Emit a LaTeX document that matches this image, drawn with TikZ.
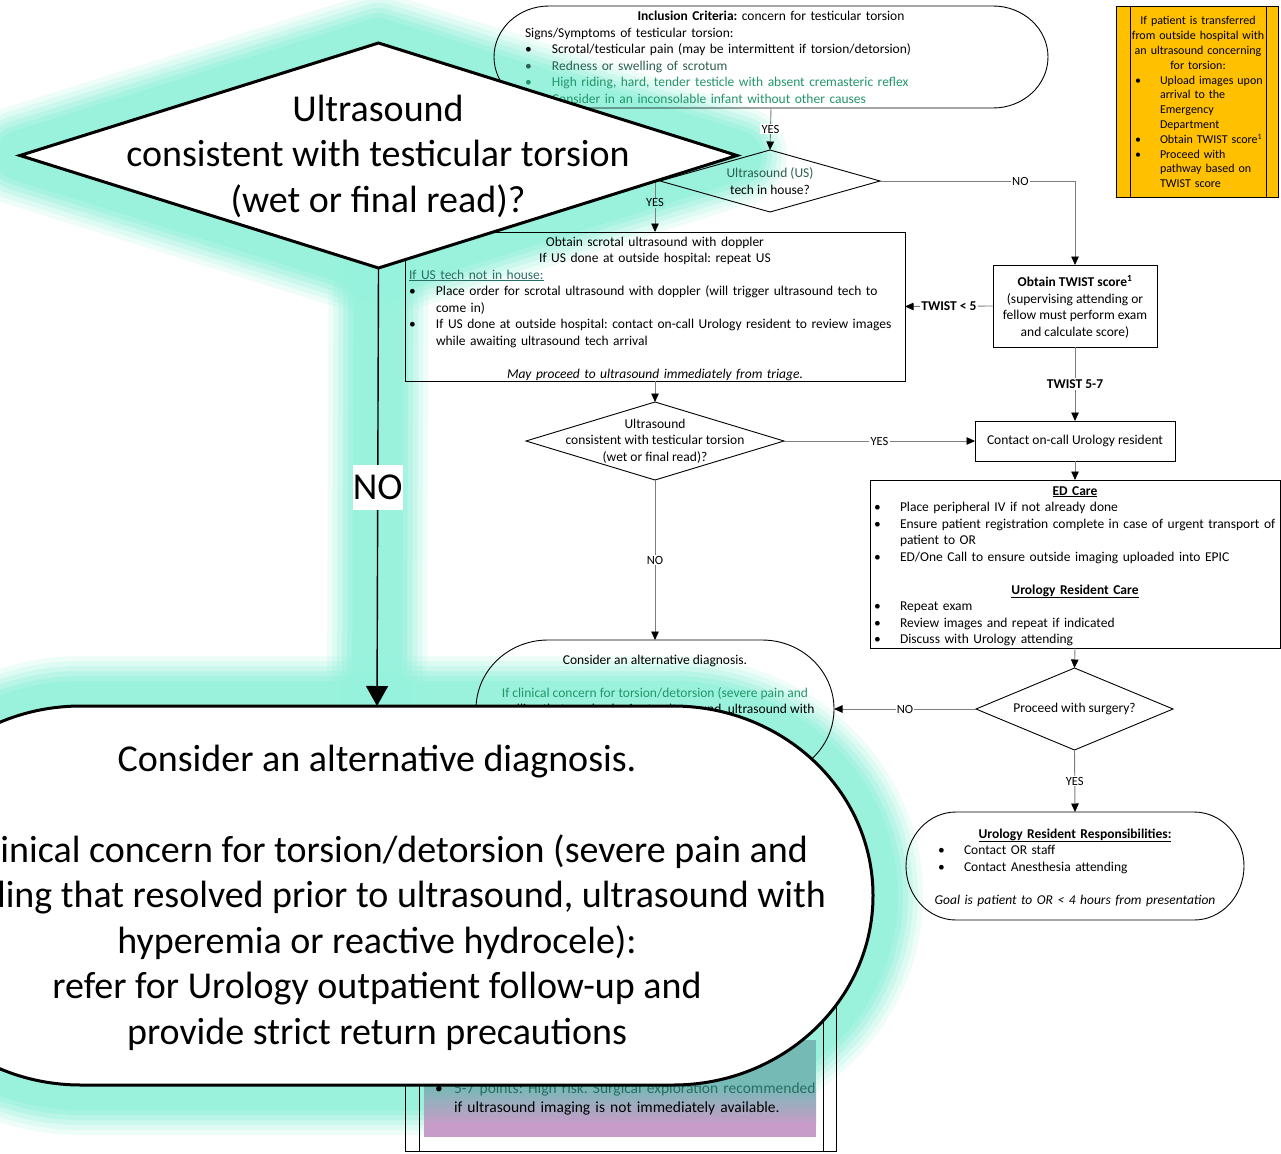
\documentclass[tikz,border=0pt]{standalone}
\usepackage{fontspec}
\setmainfont{Carlito}
\usetikzlibrary{arrows.meta,shapes.geometric}

\definecolor{glowc}{RGB}{150,242,220}
\definecolor{gold}{RGB}{255,192,0}
\definecolor{lilac}{RGB}{200,156,200}
\definecolor{tealfill}{RGB}{118,186,182}
\definecolor{greentext}{RGB}{34,150,105}
\definecolor{darkgreentext}{RGB}{45,95,80}
\definecolor{tealtext}{RGB}{40,110,100}
\definecolor{connc}{RGB}{125,125,125}

\newcommand\fsS{\fontsize{13.5pt}{16.5pt}\selectfont\frenchspacing}
\newcommand\fsL{\fontsize{12.5pt}{15pt}\selectfont}
\newcommand\fsO{\fontsize{12pt}{14.8pt}\selectfont\frenchspacing}
\newcommand\fsT{\fontsize{15.5pt}{19pt}\selectfont\frenchspacing}
\newcommand\fsB{\fontsize{38pt}{45.5pt}\selectfont\frenchspacing}
% bulleted paragraph with hanging indent
\newcommand\itm[2][27pt]{\par\noindent\hangindent=#1\hangafter=1\rightskip=0pt minus 60pt\makebox[#1][l]{\textbullet}#2}
% one centred line across the text width
\newcommand\ctr[1]{\par\noindent\makebox[\hsize][c]{#1}\par}
% terminator outline: left, top, right, bottom, x radius, y radius
\newcommand\stadiumpath[6]{({#1+#5},#2) -- ({#3-#5},#2) arc[start angle=90,end angle=-90,x radius=#5pt,y radius=#6pt] -- ({#1+#5},#4) arc[start angle=270,end angle=90,x radius=#5pt,y radius=#6pt] -- cycle}

\begin{document}
\begin{tikzpicture}[x=1pt,y=-1pt,
  box/.style={draw=black,line width=0.9pt,inner sep=0pt,outer sep=0pt},
  dia/.style={diamond,draw=black,line width=0.9pt,inner sep=0pt,outer sep=0pt},
  anchorbox/.style={inner sep=0pt,outer sep=0pt},
  conn/.style={draw=connc,line width=0.9pt,-{Triangle[width=7.5pt,length=8.5pt,color=black]}},
  lab/.style={fill=white,inner sep=1.2pt,font=\fsL},
  labb/.style={fill=white,inner sep=1.2pt,font=\fsS\bfseries},
  txt/.style={inner sep=0pt,outer sep=0pt,font=\fsS},
  bigline/.style={draw=black,line width=3pt},
  glow/.style={draw=glowc,line join=round,line cap=round},
]
\useasboundingbox (0,0) rectangle (1281,1153);
\clip (0,0) rectangle (1281,1153);
\fill[white] (0,0) rectangle (1281,1153);

% ---------- enlarged callout: outline anchors and soft halo ----------
\node[diamond,inner sep=0pt,outer sep=0pt,minimum width=717pt,minimum height=225pt] (bdia) at (378.5,155.5) {};
\node[anchorbox,minimum width=992pt,minimum height=379pt] (bigalt) at (377,895.5) {};
\foreach \w/\o in {100/0.15,90/0.2,80/0.25,70/0.35,60/0.5,50/0.7}{
  \draw[glow,line width=\w pt,opacity=\o] (bdia.north) -- (bdia.east) -- (bdia.south) -- (bdia.west) -- cycle;
  \draw[glow,line width=\w pt,opacity=\o] (bdia.south) -- (bigalt.north);
  \draw[glow,line width=\w pt,opacity=\o] \stadiumpath{-119}{706}{873}{1085}{200}{189.5};
}

% ---------- transfer note ----------
\node[box,fill=gold,minimum width=162pt,minimum height=191pt] (xfer) at (1197,101.5) {};
\draw[line width=0.9pt] ([xshift=14pt]xfer.north west) -- ([xshift=14pt]xfer.south west);
\draw[line width=0.9pt] ([xshift=-12pt]xfer.north east) -- ([xshift=-12pt]xfer.south east);
\node[txt,font=\fsO,anchor=north west,text width=126pt] (xfertxt) at (1135,10.2) {%
  \ctr{\strut If patient is transferred}\ctr{from outside hospital with}\ctr{an ultrasound concerning}\ctr{for torsion:}%
  \itm[25pt]{Upload images upon\newline arrival to the\newline Emergency\newline Department}%
  \itm[25pt]{Obtain TWIST score\textsuperscript{1}}%
  \itm[25pt]{Proceed with\newline pathway based on\newline TWIST score}\par};

% ---------- inclusion criteria ----------
\node[anchorbox,minimum width=554pt,minimum height=102pt] (incl) at (771,57) {};
\draw[line width=0.9pt] \stadiumpath{494}{6}{1048}{108}{55}{51};
\node[txt,anchor=north west,text width=492pt] (incltxt) at (525,4.5) {%
  \ctr{\strut\textbf{Inclusion Criteria:} concern for testicular torsion}%
  \noindent Signs/Symptoms of testicular torsion:%
  \itm[27pt]{Scrotal/testicular pain (may be intermittent if torsion/detorsion)}%
  {\color{darkgreentext}\itm[27pt]{Redness or swelling of scrotum}}%
  {\color{greentext}\itm[27pt]{High riding, hard, tender testicle with absent cremasteric reflex}}%
  {\color{greentext}\itm[27pt]{Consider in an inconsolable infant without other causes}}\par};

% ---------- US tech decision ----------
\node[dia,minimum width=220pt,minimum height=62pt] (usd) at (770,181) {};
\node[txt,align=center] (usdtxt) at (usd.center) {{\color{darkgreentext}Ultrasound (US)}\\tech in house?};

% ---------- scrotal ultrasound ----------
\node[box,minimum width=500pt,minimum height=149pt] (scro) at (655,306.5) {};
\node[txt,anchor=north west,text width=492pt] (scrotxt) at (409,229.5) {%
  \ctr{\strut Obtain scrotal ultrasound with doppler}\ctr{If US done at outside hospital: repeat US}%
  \noindent{\color{tealtext}\underline{If US tech not in house:}}%
  \itm[27pt]{Place order for scrotal ultrasound with doppler (will trigger ultrasound tech to\newline come in)}%
  \itm[27pt]{If US done at outside hospital: contact on-call Urology resident to review images\newline while awaiting ultrasound tech arrival}%
  \par\mbox{}\ctr{\itshape May proceed to ultrasound immediately from triage.}};

% ---------- TWIST ----------
\node[box,minimum width=164pt,minimum height=82pt] (twist) at (1075,306) {};
\node[txt,align=center] (twisttxt) at ([yshift=-1pt]twist.center) {\textbf{Obtain TWIST score\textsuperscript{1}}\\(supervising attending or\\fellow must perform exam\\and calculate score)};

% ---------- ultrasound result ----------
\node[dia,minimum width=258pt,minimum height=78pt] (mdia) at (655,441) {};
\node[txt,align=center] (mdiatxt) at (mdia.center) {Ultrasound\\consistent with testicular torsion\\(wet or final read)?};

\node[box,minimum width=200pt,minimum height=40pt] (cont) at (1075,441) {};
\node[txt] (conttxt) at (cont.center) {Contact on-call Urology resident};

% ---------- ED care ----------
\node[box,minimum width=410pt,minimum height=168pt] (ed) at (1075,564) {};
\node[txt,anchor=north west,text width=402pt] (edtxt) at (874,478.5) {%
  \ctr{\strut\textbf{\underline{ED Care}}}%
  \itm[26pt]{Place peripheral IV if not already done}%
  \itm[26pt]{Ensure patient registration complete in case of urgent transport of\newline patient to OR}%
  \itm[26pt]{ED/One Call to ensure outside imaging uploaded into EPIC}%
  \par\mbox{}\ctr{\textbf{\underline{Urology Resident Care}}}%
  \itm[26pt]{Repeat exam}%
  \itm[26pt]{Review images and repeat if indicated}%
  \itm[26pt]{Discuss with Urology attending}\par};

% ---------- surgery decision ----------
\node[dia,minimum width=197pt,minimum height=82pt] (psur) at (1074.5,709) {};
\node[txt] (psurtxt) at (psur.center) {Proceed with surgery?};

\node[anchorbox,minimum width=338pt,minimum height=108pt] (ures) at (1075,866) {};
\draw[line width=0.9pt] \stadiumpath{906}{812}{1244}{920}{50}{54};
\node[txt,anchor=north west,text width=274pt] (urestxt) at (938,821.5) {%
  \ctr{\strut\textbf{\underline{Urology Resident Responsibilities:}}}%
  \itm[26pt]{Contact OR staff}%
  \itm[26pt]{Contact Anesthesia attending}%
  \par\mbox{}\ctr{\itshape Goal is patient to OR < 4 hours from presentation}};

% ---------- alternative diagnosis ----------
\node[anchorbox,minimum width=358pt,minimum height=138pt] (alt) at (655,709) {};
\draw[line width=0.9pt] \stadiumpath{476}{640}{834}{778}{72}{69};
\node[txt,anchor=north,align=center] (alttxt) at (655,652.5) {\strut Consider an alternative diagnosis.\\[16.5pt]
  \color{greentext}If clinical concern for torsion/detorsion (severe pain and\\swelling that resolved prior to ultrasound, ultrasound with};

% ---------- TWIST score table ----------
\node[box,minimum width=431pt,minimum height=166pt] (tbl) at (620.5,1068) {};
\draw[line width=0.9pt] ([xshift=14pt]tbl.north west) -- ([xshift=14pt]tbl.south west);
\draw[line width=0.9pt] ([xshift=-13pt]tbl.north east) -- ([xshift=-13pt]tbl.south east);
\fill[tealfill] (424,1040) rectangle (816,1086);
\shade[top color=tealfill,bottom color=lilac] (424,1086) rectangle (816,1124);
\fill[lilac] (424,1124) rectangle (816,1137);
\node[txt,font=\fsT,anchor=north west,text width=400pt] (tbltxt) at (435,1074.5) {%
  \itm[19pt]{\strut{\color{tealtext}5-7 points: High risk. Surgical exploration recommended}\newline if ultrasound imaging is not immediately available.}\par};

% ---------- connectors ----------
\draw[conn] (incl.south) -- node[lab]{YES} (usd.north);
\draw[conn] (usd.east) -| node[lab,pos=0.36]{NO} (twist.north);
\draw[conn] (usd.west) -| node[lab,fill=glowc,pos=0.715]{YES} (scro.north);
\draw[conn] (twist.west) -- node[labb]{TWIST < 5} (scro.east);
\draw[conn] (twist.south) -- node[labb]{TWIST 5-7} (cont.north);
\draw[conn] (scro.south) -- (mdia.north);
\draw[conn] (mdia.east) -- node[lab]{YES} (cont.west);
\draw[conn] (cont.south) -- (ed.north);
\draw[conn] (mdia.south) -- node[lab]{NO} (alt.north);
\draw[conn] (ed.south) -- (psur.north);
\draw[conn] (psur.west) -- node[lab]{NO} (alt.east);
\draw[conn] (psur.south) -- node[lab]{YES} (ures.north);

% ---------- enlarged callout ----------
\draw[bigline,fill=white] (bdia.north) -- (bdia.east) -- (bdia.south) -- (bdia.west) -- cycle;
\draw[bigline,fill=white] \stadiumpath{-119}{706}{873}{1085}{200}{189.5};
\draw[line width=1.4pt,-{Triangle[width=22pt,length=20pt]}] (bdia.south) -- node[fill=white,inner xsep=0pt,minimum height=45pt,font=\fsB]{NO} (bigalt.north);

\node[inner sep=0pt,anchor=north,align=center,font=\fsB] (bdiatxt) at (378,89) {\strut Ultrasound\\consistent with testicular torsion\\(wet or final read)?};
\node[inner sep=0pt,anchor=north,align=center,font=\fsB] (bigalttxt) at (377,739) {\strut Consider an alternative diagnosis.\\[45.5pt]
  If clinical concern for torsion/detorsion (severe pain and\\swelling that resolved prior to ultrasound, ultrasound with\\hyperemia or reactive hydrocele):\\refer for Urology outpatient follow-up and\\provide strict return precautions};
\end{tikzpicture}
\end{document}
